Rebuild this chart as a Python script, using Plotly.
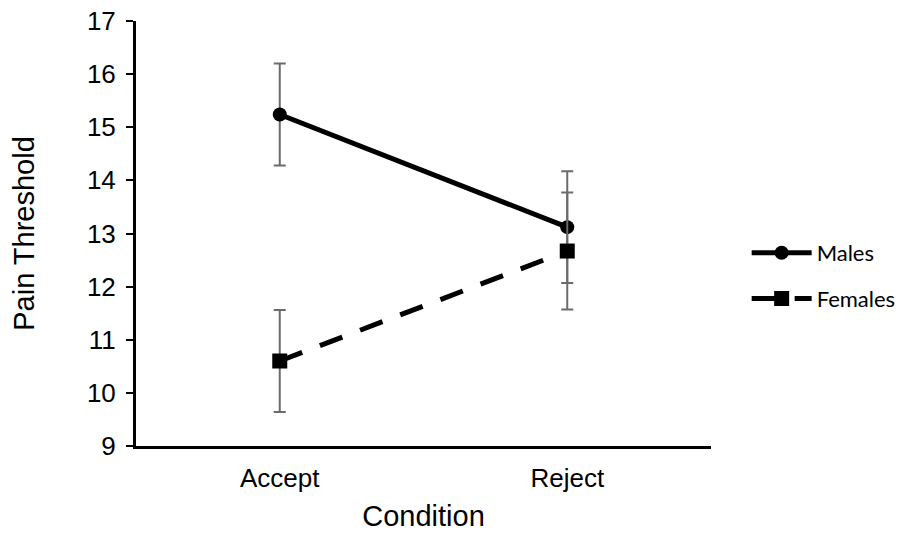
import plotly.graph_objects as go

conditions = ["Accept", "Reject"]
males = [15.24, 13.12]
males_err = [0.96, 1.05]
females = [10.6, 12.67]
females_err = [0.96, 1.1]
y_ticks = [9, 10, 11, 12, 13, 14, 15, 16, 17]

fig = go.Figure()
fig.add_trace(go.Scatter(
    x=conditions, y=males, name="Males", mode="lines+markers",
    line=dict(color="black", width=5),
    marker=dict(symbol="circle", size=14, color="black"),
    error_y=dict(type="data", array=males_err, color="#6b6b6b", thickness=2, width=6),
    legendgroup="m",
))
fig.add_trace(go.Scatter(
    x=conditions, y=females, name="Females", mode="lines+markers",
    line=dict(color="black", width=5, dash="24px,19px"),
    marker=dict(symbol="square", size=15, color="black"),
    error_y=dict(type="data", array=females_err, color="#6b6b6b", thickness=2, width=6),
    legendgroup="f",
))

fig.update_layout(
    width=914, height=537,
    margin=dict(l=136, r=203, t=21, b=91),
    paper_bgcolor="white", plot_bgcolor="white",
    font=dict(family="Liberation Sans, Arial", color="black", size=26),
    showlegend=True,
    legend=dict(x=1.062, y=0.40, xanchor="left", yanchor="middle",
                font=dict(family="Lato", size=22, color="black"),
                tracegroupgap=14, itemwidth=60, bgcolor="rgba(0,0,0,0)"),
    xaxis=dict(
        type="category", range=[-0.5, 1.5], automargin=False,
        showline=True, linecolor="black", linewidth=3,
        ticks="", showgrid=False, zeroline=False,
        tickfont=dict(size=26), ticklabelstandoff=7,
        title=dict(text="Condition", font=dict(size=29), standoff=14),
    ),
    yaxis=dict(
        range=[9, 17], tickvals=y_ticks, automargin=False,
        showline=True, linecolor="black", linewidth=3,
        ticks="outside", ticklen=7, tickwidth=2, tickcolor="black",
        showgrid=False, zeroline=False,
        tickfont=dict(size=26), ticklabelstandoff=5,
        title=dict(text="Pain Threshold", font=dict(size=29), standoff=44),
    ),
)

fig.write_html("out.html")
